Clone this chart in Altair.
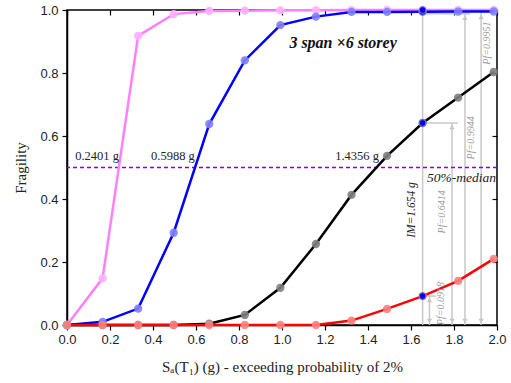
import altair as alt
import pandas as pd

# ---- data ----
x_vals = [0.0, 0.1654, 0.3308, 0.4962, 0.6616, 0.8270, 0.9924, 1.1578, 1.3232, 1.4886, 1.6540, 1.8194, 1.9848]
pink_vals = [0.0, 0.148, 0.918, 0.987, 0.997, 0.998, 0.999, 0.9995, 0.9998, 0.9999, 0.9999, 1.0, 1.0]
blue_vals = [0.0, 0.010, 0.052, 0.293, 0.638, 0.840, 0.952, 0.979, 0.994, 0.994, 0.9944, 0.995, 0.9951]
black_vals = [0.0, 0.0, 0.0, 0.0, 0.004, 0.032, 0.118, 0.257, 0.413, 0.537, 0.6414, 0.722, 0.803]
red_vals = [0.0, 0.0, 0.0, 0.0, 0.0, 0.0, 0.0, 0.0, 0.014, 0.051, 0.0918, 0.140, 0.210]

series_names = ["pink", "blue", "black", "red"]
series_values = [pink_vals, blue_vals, black_vals, red_vals]
line_colors = ["#FF80FF", "#0000FF", "#000000", "#FF0000"]
marker_colors = ["#FFB0FF", "#8080FF", "#808080", "#FF8080"]

im_value = 1.654
im_points = [0.0918, 0.6414, 0.9944, 0.9999]

median_labels = ["0.2401 g", "0.5988 g", "1.4356 g"]
median_label_x = [0.14, 0.493, 1.349]
median_label_y = [0.537, 0.537, 0.537]

arrow_x = [1.686, 1.791, 1.851, 1.926]
arrow_top = [0.0918, 0.6414, 0.988, 0.991]
hline_y = [0.0918, 0.6414, 0.988]
hline_x2 = [1.716, 1.819, 1.874]
pf_labels = ["Pf=0.0918", "Pf=0.6414", "Pf=0.9944", "Pf=0.9951"]
pf_label_x = [1.740, 1.744, 1.879, 1.953]
pf_label_y = [0.068, 0.359, 0.594, 0.895]

x_ticks = [0.0, 0.2, 0.4, 0.6, 0.8, 1.0, 1.2, 1.4, 1.6, 1.8, 2.0]
y_ticks = [0.0, 0.2, 0.4, 0.6, 0.8, 1.0]

SERIF = "Liberation Serif"
SANS = "Liberation Sans"
GREY = "#C8C8C8"
GREY_TXT = "#9A9A9A"

xs = alt.Scale(domain=[0, 2], nice=False)
ys = alt.Scale(domain=[0, 1], nice=False)


def X(field, **kw):
    kw.setdefault("axis", None)
    return alt.X(field, scale=xs, **kw)


def Y(field, **kw):
    kw.setdefault("axis", None)
    return alt.Y(field, scale=ys, **kw)


rows = []
for name, vals in zip(series_names, series_values):
    for xv, yv in zip(x_vals, vals):
        rows.append({"series": name, "x": xv, "y": yv})
df = pd.DataFrame(rows)

x_axis = alt.Axis(values=x_ticks, format=".1f", labelFont=SANS, labelFontSize=13,
                  labelColor="#222", tickColor="black", tickSize=5, tickWidth=1.2,
                  domainColor="black", domainWidth=1.5, grid=False, labelPadding=3,
                  labelFlush=False, labelOverlap=False,
                  title="Sₐ(T₁) (g) - exceeding probability of 2%", titleFont=SERIF,
                  titleFontSize=15, titleFontWeight="normal", titleColor="#222", titlePadding=13)
y_axis = alt.Axis(values=y_ticks, format=".1f", labelFont=SANS, labelFontSize=13,
                  labelColor="#222", tickColor="black", tickSize=5, tickWidth=1.2,
                  domainColor="black", domainWidth=1.5, grid=False, labelPadding=4,
                  labelFlush=False, labelOverlap=False,
                  title="Fragility", titleFont=SERIF, titleFontSize=15,
                  titleFontWeight="normal", titleColor="#222", titlePadding=11)

base = alt.Chart(df)

# grey IM annotation lines
im_df = pd.DataFrame({"x": [im_value], "y": [0.0], "y2": [1.0]})
im_line = alt.Chart(im_df).mark_rule(color=GREY, strokeWidth=1.5).encode(
    x=X("x:Q", axis=x_axis), y=Y("y:Q", axis=y_axis), y2="y2:Q")

arr_df = pd.DataFrame({"x": arrow_x, "top": arrow_top, "bottom": [0.0] * len(arrow_x)})
arrows = alt.Chart(arr_df).mark_rule(color=GREY, strokeWidth=1.5).encode(
    x=X("x:Q"), y=Y("bottom:Q"), y2="top:Q")
heads_up = alt.Chart(arr_df).mark_point(shape="triangle-up", filled=True, color=GREY,
                                         opacity=1, size=28, yOffset=4).encode(
    x=X("x:Q"), y=Y("top:Q"))
heads_down = alt.Chart(arr_df).mark_point(shape="triangle-down", filled=True, color=GREY,
                                           opacity=1, size=28, yOffset=-4).encode(
    x=X("x:Q"), y=Y("bottom:Q"))

h_df = pd.DataFrame({"x": [im_value] * len(hline_y), "x2": hline_x2, "y": hline_y})
hlines = alt.Chart(h_df).mark_rule(color=GREY, strokeWidth=1.5).encode(
    x=X("x:Q"), x2="x2:Q", y=Y("y:Q"))

# 50% median dashed line
med_df = pd.DataFrame({"y": [0.5]})
median_line = alt.Chart(med_df).mark_rule(color="#8000FF", strokeWidth=1.5,
                                          strokeDash=[4, 3]).encode(y=Y("y:Q"))

layers = [im_line, arrows, heads_up, heads_down, hlines, median_line]

for name, lc, mc in zip(series_names, line_colors, marker_colors):
    sub = base.transform_filter(alt.datum.series == name)
    layers.append(sub.mark_line(color=lc, strokeWidth=2.5).encode(x=X("x:Q"), y=Y("y:Q")))
    layers.append(sub.mark_circle(color=mc, opacity=0.9, size=70).encode(x=X("x:Q"), y=Y("y:Q")))

imp_df = pd.DataFrame({"x": [im_value] * len(im_points), "y": im_points})
layers.append(alt.Chart(imp_df).mark_point(filled=True, fill="#0000FF", stroke="#7777AA",
                                           strokeWidth=1, opacity=1, size=45).encode(
    x=X("x:Q"), y=Y("y:Q")))

# texts
mt_df = pd.DataFrame({"x": median_label_x, "y": median_label_y, "t": median_labels})
layers.append(alt.Chart(mt_df).mark_text(font=SERIF, fontSize=12.5, color="#222",
                                         baseline="middle", align="center").encode(
    x=X("x:Q"), y=Y("y:Q"), text="t:N"))

misc_df = pd.DataFrame({"x": [1.995], "y": [0.467], "t": ["50%-median"]})
layers.append(alt.Chart(misc_df).mark_text(font=SERIF, fontSize=13.5, fontStyle="italic",
                                           color="#222", align="right", baseline="middle").encode(
    x=X("x:Q"), y=Y("y:Q"), text="t:N"))

title_df = pd.DataFrame({"x": [1.284], "y": [0.895], "t": ["3 span ×6 storey"]})
layers.append(alt.Chart(title_df).mark_text(font=SERIF, fontSize=16, fontStyle="italic",
                                            fontWeight="bold", color="#111", align="center",
                                            baseline="middle").encode(
    x=X("x:Q"), y=Y("y:Q"), text="t:N"))

imt_df = pd.DataFrame({"x": [1.605], "y": [0.365], "t": ["IM=1.654 g"]})
layers.append(alt.Chart(imt_df).mark_text(font=SERIF, fontSize=11.5, fontStyle="italic",
                                          color="#222", angle=270, align="center",
                                          baseline="middle").encode(
    x=X("x:Q"), y=Y("y:Q"), text="t:N"))

pf_df = pd.DataFrame({"x": pf_label_x, "y": pf_label_y, "t": pf_labels})
layers.append(alt.Chart(pf_df).mark_text(font=SERIF, fontSize=10, fontStyle="italic",
                                         color=GREY_TXT, angle=270, align="center",
                                         baseline="middle").encode(
    x=X("x:Q"), y=Y("y:Q"), text="t:N"))

# top / right inward ticks
tick_df = pd.DataFrame({"x": [0.0], "y": [0.0]})
top_right = alt.Chart(tick_df).mark_point(opacity=0).encode(
    x=X("x:Q", axis=alt.Axis(orient="top", values=x_ticks, labels=False,
                             title=None, domain=False, tickSize=5, offset=-5,
                             tickColor="black", tickWidth=1.2, grid=False)),
    y=Y("y:Q", axis=alt.Axis(orient="right", values=y_ticks, labels=False,
                             title=None, domain=False, tickSize=5, offset=-5,
                             tickColor="black", tickWidth=1.2, grid=False)))
layers.append(top_right)

chart = alt.layer(*layers).resolve_axis(x="independent", y="independent").properties(
    width=430, height=315,
    autosize=alt.AutoSizeParams(type="none"),
    padding={"left": 67, "top": 10, "right": 14, "bottom": 58},
    background="white",
).configure_view(stroke="black", strokeWidth=1.5)

chart.save("out.html", embed_options={"renderer": "svg", "actions": False})
